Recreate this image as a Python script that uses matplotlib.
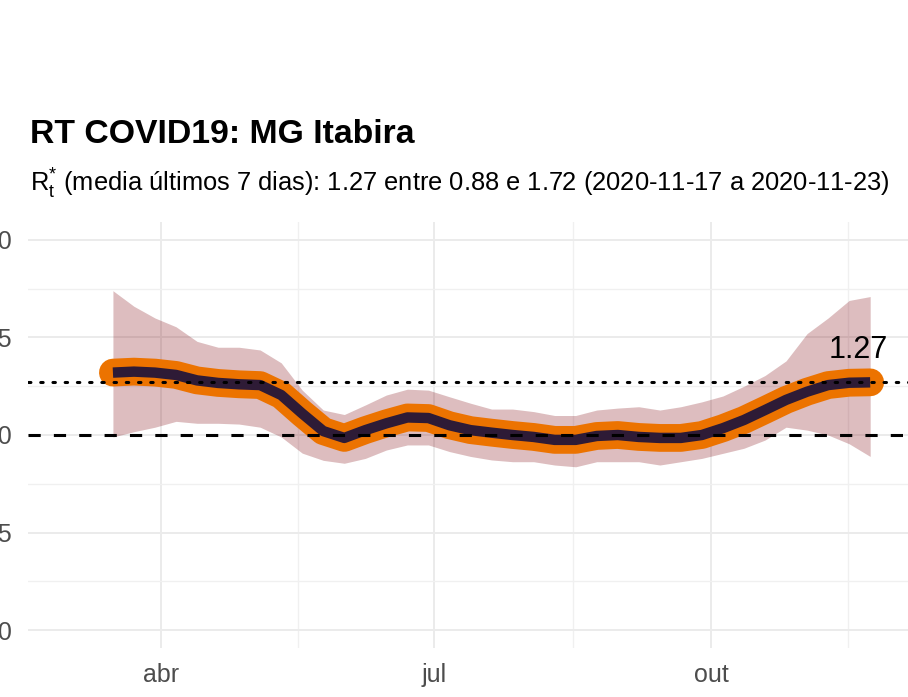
import numpy as np
import matplotlib.pyplot as plt
import matplotlib.dates as mdates
from matplotlib.ticker import FixedLocator, FormatStrFormatter

plt.rcParams['font.family'] = ['Liberation Sans', 'DejaVu Sans']
plt.rcParams['mathtext.fontset'] = 'custom'
plt.rcParams['mathtext.rm'] = 'Liberation Sans'
plt.rcParams['mathtext.it'] = 'Liberation Sans'

# weekly estimates
dates = np.arange(np.datetime64('2020-03-16'), np.datetime64('2020-11-24'), np.timedelta64(7, 'D'))
rt = [1.32, 1.325, 1.32, 1.308, 1.28, 1.267, 1.26, 1.256, 1.205, 1.11,
      1.02, 0.985, 1.025, 1.06, 1.09, 1.087, 1.05, 1.025, 1.012, 1.0,
      0.99, 0.975, 0.975, 0.995, 1.0, 0.99, 0.985, 0.985, 1.0, 1.035,
      1.077, 1.128, 1.18, 1.222, 1.256, 1.268, 1.27]
upper = [1.74, 1.66, 1.60, 1.555, 1.48, 1.45, 1.45, 1.436, 1.37, 1.23,
         1.128, 1.105, 1.154, 1.205, 1.235, 1.23, 1.196, 1.163, 1.133, 1.133,
         1.12, 1.10, 1.10, 1.128, 1.138, 1.145, 1.128, 1.145, 1.17, 1.2,
         1.25, 1.305, 1.38, 1.52, 1.6, 1.69, 1.71]
lower = [0.99, 1.017, 1.04, 1.07, 1.06, 1.06, 1.056, 1.04, 0.99, 0.907,
         0.87, 0.855, 0.88, 0.923, 0.949, 0.949, 0.915, 0.89, 0.872, 0.863,
         0.863, 0.846, 0.837, 0.863, 0.863, 0.863, 0.846, 0.863, 0.88, 0.906,
         0.932, 0.974, 1.04, 1.025, 1.0, 0.955, 0.89]

rt_mean = 1.27
rt_low = 0.88
rt_high = 1.72
period = ('2020-11-17', '2020-11-23')
city = 'MG Itabira'

x_ticks = ['2020-04-01', '2020-07-01', '2020-10-01']
x_labels = ['abr', 'jul', 'out']
x_minor = ['2020-05-16 12:00', '2020-08-16', '2020-11-15 12:00']

x = mdates.date2num(dates.astype('datetime64[D]').astype(object))

fig = plt.figure(figsize=(9.08, 6.97), dpi=100)
ax = fig.add_axes([28 / 908, 49 / 697, 973 / 908, 426 / 697])

# ribbon, thick orange band, dark line
ax.fill_between(x, lower, upper, color='#7C000A', alpha=0.26, lw=0, zorder=1)
ax.plot(x, rt, color='#EC7300', lw=20, solid_capstyle='round', solid_joinstyle='round', zorder=2)
ax.plot(x, rt, color='#2E1B36', lw=7.5, solid_capstyle='butt', solid_joinstyle='round', zorder=3)

# reference lines
ax.axhline(1.0, color='black', lw=2.2, ls=(0, (4, 4.3)), zorder=4)
ax.axhline(rt_mean, color='black', lw=2.2, ls=(0, (0.8, 3.2)), dash_capstyle='round', zorder=4)

ax.text(mdates.date2num(np.datetime64('2020-11-19').astype(object)), 1.395, f'{rt[-1]:.2f}',
        fontsize=22, ha='center', va='baseline', color='black', zorder=5)

# axes limits and grid
x0 = mdates.date2num(np.datetime64('2020-04-01').astype(object))
ax.set_xlim(x0 - 133 / 3.005, x0 + 840 / 3.005)
ax.set_ylim(-0.0923, 2.0923)

ax.xaxis.set_major_locator(FixedLocator([mdates.datestr2num(d) for d in x_ticks]))
ax.xaxis.set_minor_locator(FixedLocator([mdates.datestr2num(d) for d in x_minor]))
ax.set_xticklabels(x_labels)
ax.yaxis.set_major_locator(FixedLocator([0, 0.5, 1.0, 1.5, 2.0]))
ax.yaxis.set_minor_locator(FixedLocator([0.25, 0.75, 1.25, 1.75]))
ax.yaxis.set_major_formatter(FormatStrFormatter('%.1f'))

ax.grid(which='major', color='#EBEBEB', lw=1.4)
ax.grid(which='minor', color='#F0F0F0', lw=1.0)
ax.set_axisbelow(True)
for s in ax.spines.values():
    s.set_visible(False)
ax.tick_params(which='both', length=0)
ax.tick_params(axis='x', labelsize=18, labelcolor='#4D4D4D', pad=11)
ax.tick_params(axis='y', labelsize=18, labelcolor='#4D4D4D', pad=11.5)

# titles
fig.text(30 / 908, 1 - 143 / 697, f'RT COVID19: {city}', fontsize=24.3, fontweight='bold',
         ha='left', va='baseline')
fig.text(30 / 908, 1 - 192 / 697,
         r'$\mathrm{R}_{\mathrm{t}}^{*}$' + f' (media últimos 7 dias): {rt_mean:.2f} entre {rt_low:.2f} e {rt_high:.2f} ({period[0]} a {period[1]})',
         fontsize=18.35, ha='left', va='baseline')

fig.savefig('out.png', dpi=100)
